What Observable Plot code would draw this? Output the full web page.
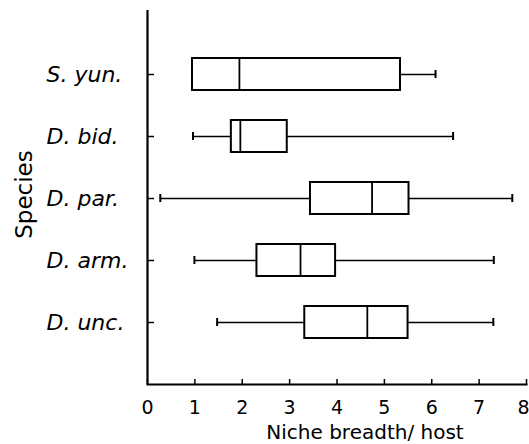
<!DOCTYPE html>
<html><head><meta charset="utf-8">
<script src="https://cdn.jsdelivr.net/npm/d3@7"></script>
<script src="https://cdn.jsdelivr.net/npm/@observablehq/plot@0.6"></script>
<style>body{margin:0;background:#fff}</style>
</head><body><div id="chart"></div>
<script>
const species = ["S. yun.", "D. bid.", "D. par.", "D. arm.", "D. unc."];
const mins    = [0.95, 0.96, 0.27, 0.99, 1.47];
const q1s     = [0.95, 1.77, 3.44, 2.31, 3.32];
const medians = [1.94, 1.96, 4.74, 3.23, 4.64];
const q3s     = [5.34, 2.95, 5.52, 3.97, 5.50];
const maxs    = [6.08, 6.45, 7.70, 7.31, 7.30];
const xTicks  = [0, 1, 2, 3, 4, 5, 6, 7, 8];
const xLabel  = "Niche breadth/ host";
const yLabel  = "Species";

const data = species.map((s, i) => ({species: s, min: mins[i], q1: q1s[i], median: medians[i], q3: q3s[i], max: maxs[i]}));
const font = "'DejaVu Sans', 'Liberation Sans', Arial, sans-serif";
const lastTick = xTicks[xTicks.length - 1];

const chart = Plot.plot({
  width: 529, height: 444,
  marginLeft: 147, marginRight: 3, marginTop: 10, marginBottom: 60,
  style: {fontFamily: font, background: "#fff", color: "#000"},
  x: {domain: [0, 8], axis: null, label: null},
  y: {type: "band", domain: species, paddingInner: 0.488, paddingOuter: 0, insetTop: 47.3, insetBottom: 44.7, axis: null, label: null},
  marks: [
    Plot.ruleY(data, {y: "species", x1: "min", x2: "q1", stroke: "#000", strokeWidth: 1.6}),
    Plot.ruleY(data, {y: "species", x1: "q3", x2: "max", stroke: "#000", strokeWidth: 1.6}),
    Plot.tickX(data.filter(d => d.min < d.q1), {x: "min", y: "species", insetTop: 12, insetBottom: 12, stroke: "#000", strokeWidth: 2}),
    Plot.tickX(data, {x: "max", y: "species", insetTop: 12, insetBottom: 12, stroke: "#000", strokeWidth: 2}),
    Plot.barX(data, {y: "species", x1: "q1", x2: "q3", fill: "#fff", stroke: "#000", strokeWidth: 2}),
    Plot.tickX(data, {x: "median", y: "species", stroke: "#000", strokeWidth: 1.8}),
    Plot.text(data, {y: "species", text: "species", frameAnchor: "left", textAnchor: "start", lineAnchor: "middle", dx: -101, fontSize: 22, fontStyle: "italic", fill: "#000"}),
    Plot.axisY({tickSize: -7, tickFormat: () => "", strokeWidth: 1.5, label: null}),
    Plot.axisX({ticks: xTicks, tickSize: -5, tickFormat: () => "", strokeWidth: 1.5, label: null}),
    Plot.axisX({ticks: xTicks.filter(t => t !== lastTick), tickSize: 0, tickFormat: d => d, tickPadding: 16, fontSize: 19, label: null}),
    Plot.axisX({ticks: [lastTick], tickSize: 0, tickFormat: d => d, tickPadding: 16, dx: -3, fontSize: 19, label: null}),
    Plot.ruleX([0], {stroke: "#000", strokeWidth: 2.2}),
    Plot.frame({anchor: "bottom", stroke: "#000", strokeWidth: 2.2}),
    Plot.text([xLabel], {text: d => d, frameAnchor: "bottom", textAnchor: "middle", lineAnchor: "middle", dx: 28, dy: 48, fontSize: 20, fill: "#000"}),
    Plot.text([yLabel], {text: d => d, frameAnchor: "left", textAnchor: "middle", lineAnchor: "middle", dx: -123, dy: -3, rotate: -90, fontSize: 23, fill: "#000"})
  ]
});
document.getElementById("chart").appendChild(chart);
</script>
</body></html>
